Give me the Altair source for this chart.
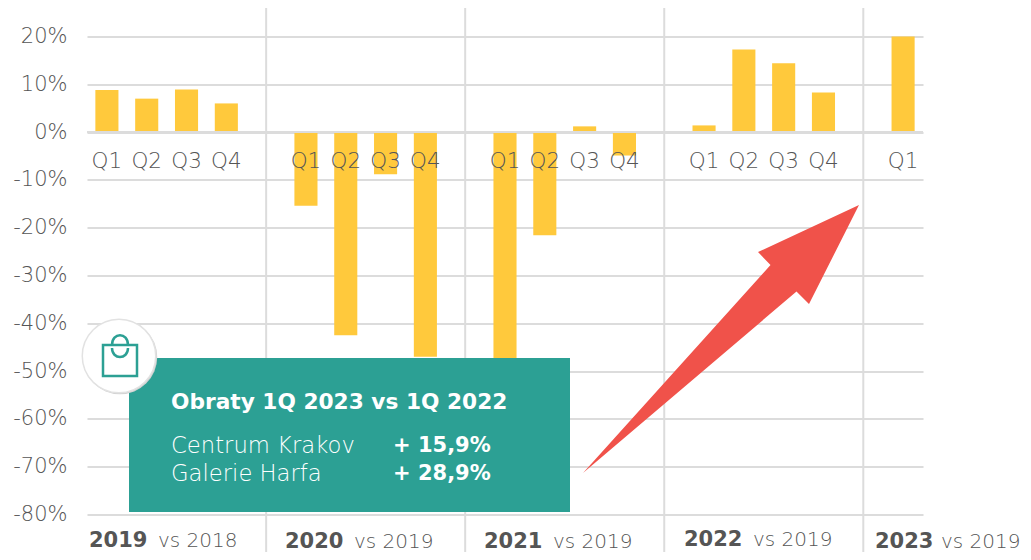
import altair as alt
import pandas as pd

FONT = "DejaVu Sans"
GREY = "#DCDCDC"
INK = "#555555"
TEAL = "#2CA094"
RED = "#F0524A"
YEL = "#FFC93C"

quarters = ["Q1", "Q2", "Q3", "Q4"]
q2019 = [8.8, 7.0, 8.9, 6.0]
q2020 = [-15.4, -42.5, -8.8, -47.0]
q2021 = [-50.0, -21.6, 1.2, -4.9]
q2022 = [1.4, 17.3, 14.4, 8.3]
q2023 = [20.0]
years = ["2019", "2020", "2021", "2022", "2023"]
versus = ["vs 2018", "vs 2019", "vs 2019", "vs 2019", "vs 2019"]
y_ticks = [20, 10, 0, -10, -20, -30, -40, -50, -60, -70, -80]

# plot-area origin on the page
OX, OY = 87, 36.5
W, H = 836, 478

rows = []
slot = 0
for series in (q2019, q2020, q2021, q2022, q2023):
    for q, v in zip(quarters, series):
        rows.append({"slot": slot, "quarter": q, "value": v})
        slot += 1
    slot += 1
bars_df = pd.DataFrame(rows)
divider_df = pd.DataFrame({"slot": [4, 9, 14, 19], "top": [26, 26, 26, 26], "bottom": [-88, -88, -88, -88]})
zero_df = pd.DataFrame({"v": [0]})
one = pd.DataFrame({"a": [0]})

xs = alt.Scale(domain=list(range(21)), paddingInner=0.42, paddingOuter=0.21)
ys = alt.Scale(domain=[-80, 20], nice=False)
X = alt.X("slot:O", scale=xs, axis=None)

grid = alt.Chart(zero_df).mark_rule(opacity=0).encode(
    y=alt.Y("v:Q", scale=ys, axis=alt.Axis(
        values=y_ticks, format="d", labelExpr="datum.value + '%'", title=None,
        grid=True, gridColor=GREY, gridWidth=2, domain=False, ticks=False,
        labelFont=FONT, labelFontSize=21, labelColor=INK, labelPadding=20,
        labelFontWeight=200)))
dividers = alt.Chart(divider_df).mark_rule(color=GREY, strokeWidth=2).encode(
    x=X, y=alt.Y("top:Q", scale=ys), y2="bottom:Q")
bars = alt.Chart(bars_df).mark_bar(color=YEL).encode(
    x=X, y=alt.Y("value:Q", scale=ys), y2=alt.datum(0))
zero = alt.Chart(zero_df).mark_rule(color=GREY, strokeWidth=2).encode(y=alt.Y("v:Q", scale=ys))
q_labels = alt.Chart(bars_df).mark_text(
    font=FONT, fontSize=21.5, fontWeight=200, color=INK, baseline="middle"
).encode(x=X, y=alt.datum(-6.2, scale=ys), text="quarter:N")


def txt(s, px, py, size, weight, color):
    return alt.Chart(one).mark_text(
        text=s, font=FONT, fontSize=size, fontWeight=weight, color=color,
        align="left", baseline="middle"
    ).encode(x=alt.value(px - OX), y=alt.value(py - OY))


def shape(path, px, py, **kw):
    return alt.Chart(one).mark_point(shape=path, size=4, **kw).encode(
        x=alt.value(px - OX), y=alt.value(py - OY))


year_layers = []
for yr, vs, px, py, gap in zip(years, versus, [89, 285, 484, 684, 875], [541, 541.5, 542, 540, 542], [69, 69, 69, 69, 66]):
    year_layers.append(txt(yr, px, py, 21, 700, INK))
    year_layers.append(txt(vs, px + gap, py, 20, 200, INK))

box = alt.Chart(one).mark_rect(color=TEAL).encode(
    x=alt.value(129 - OX), x2=alt.value(570 - OX), y=alt.value(358 - OY), y2=alt.value(512 - OY))
circle_shadow = alt.Chart(one).mark_point(shape="circle", size=5550, filled=True, color="#D2D2D2", opacity=1).encode(
    x=alt.value(120 - OX), y=alt.value(357 - OY))
circle = alt.Chart(one).mark_point(shape="circle", size=5400, filled=True, color="#FFFFFF", opacity=1,
                                   stroke="#E2E2E2", strokeWidth=1.5).encode(
    x=alt.value(119 - OX), y=alt.value(356 - OY))
bag = shape("M-17,-11 L17,-11 L17,20 L-17,20 Z M-8,-11 C-8,-24 8,-24 8,-11 M-8,-8 C-8,4 8,4 8,-8",
            120, 356, filled=False, stroke=TEAL, strokeWidth=2.5, opacity=1)
arrow = shape("M0,0 L-101,47 L-88.5,60 L-276,268 L-62.5,86.5 L-50,99 Z",
              859, 205, filled=True, color=RED, opacity=1)

box_text = [
    txt("Obraty 1Q 2023 vs 1Q 2022", 171, 402, 21.7, 700, "#FFFFFF"),
    txt("Centrum Krakov", 171, 446, 22.7, 200, "#FFFFFF"),
    txt("+ 15,9%", 393, 446, 21, 700, "#FFFFFF"),
    txt("Galerie Harfa", 171, 474, 22.7, 200, "#FFFFFF"),
    txt("+ 28,9%", 393, 474, 21, 700, "#FFFFFF"),
]

chart = alt.layer(
    grid, dividers, bars, zero, q_labels, arrow, box, circle_shadow, circle, bag,
    *box_text, *year_layers
).properties(
    width=W, height=H, autosize="none", background="white",
    padding={"left": OX - 8, "top": OY - 8, "right": 1015 - (OX - 8) - W, "bottom": 544 - (OY - 8) - H},
).configure_view(stroke=None)

chart.save("out.html", embed_options={"renderer": "svg", "actions": False})
